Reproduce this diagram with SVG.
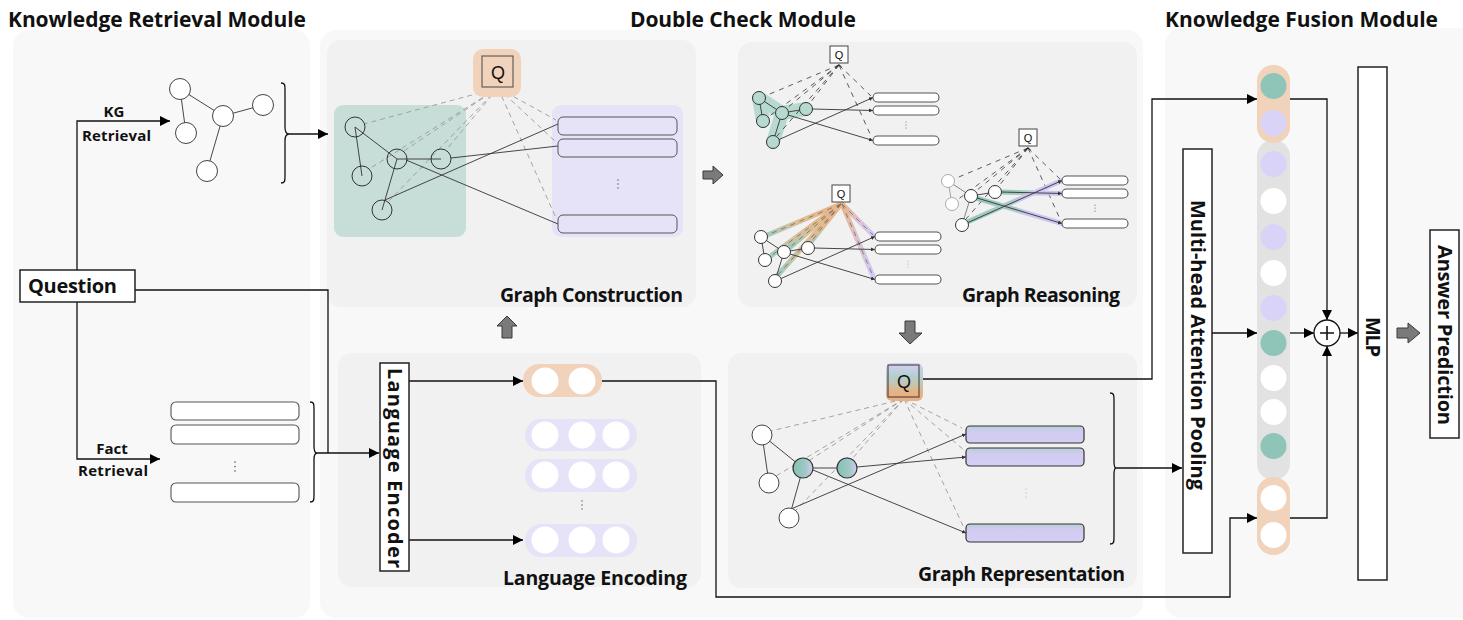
<svg xmlns="http://www.w3.org/2000/svg" width="1463" height="620" viewBox="0 0 1463 620">
<defs>
  <marker id="ah" viewBox="0 0 10 10" refX="10" refY="5" markerWidth="10" markerHeight="10" markerUnits="userSpaceOnUse" orient="auto">
    <path d="M0,0 L10,5 L0,10 z" fill="#000"/>
  </marker>
  <marker id="ahs" viewBox="0 0 10 10" refX="10" refY="5" markerWidth="4" markerHeight="4" markerUnits="userSpaceOnUse" orient="auto">
    <path d="M0,0 L10,5 L0,10 z" fill="#333"/>
  </marker>
  <linearGradient id="gOrGr" x1="1" y1="0" x2="0" y2="1">
    <stop offset="0" stop-color="#e8a66e"/>
    <stop offset="0.55" stop-color="#d9b27f"/>
    <stop offset="1" stop-color="#8cc4b6"/>
  </linearGradient>
  <linearGradient id="gOrPu" x1="0" y1="0" x2="1" y2="1">
    <stop offset="0" stop-color="#e8a66e"/>
    <stop offset="0.5" stop-color="#d8b7c8"/>
    <stop offset="1" stop-color="#c8c0f5"/>
  </linearGradient>
  <linearGradient id="gGrPu" x1="0" y1="0" x2="1" y2="0">
    <stop offset="0" stop-color="#86c0b2"/>
    <stop offset="0.45" stop-color="#9fc4c0"/>
    <stop offset="0.6" stop-color="#c6bff2"/>
    <stop offset="1" stop-color="#c8c0f5"/>
  </linearGradient>
  <linearGradient id="gQ" x1="0" y1="0" x2="0" y2="1">
    <stop offset="0" stop-color="#d6d0f4"/>
    <stop offset="0.35" stop-color="#b4cfd0"/>
    <stop offset="0.6" stop-color="#c9c3a8"/>
    <stop offset="0.75" stop-color="#e7b287"/>
    <stop offset="1" stop-color="#eaaf80"/>
  </linearGradient>
  <linearGradient id="gNode" x1="0" y1="0" x2="1" y2="0">
    <stop offset="0" stop-color="#86c1b3"/>
    <stop offset="0.6" stop-color="#9fc7c4"/>
    <stop offset="1" stop-color="#d4cdf3"/>
  </linearGradient>
  <linearGradient id="gBox" x1="0" y1="0" x2="0" y2="1">
    <stop offset="0" stop-color="#b9d0d6"/>
    <stop offset="0.35" stop-color="#d2cbf2"/>
    <stop offset="1" stop-color="#d5cef3"/>
  </linearGradient>
</defs>
<style>
  .mod{fill:#f8f8f8}
  .sub{fill:#f1f1f1}
  .t{font-family:"Open Sans","Noto Sans",sans-serif;font-weight:700;fill:#111}
  .q{font-family:"Liberation Sans",Arial,sans-serif;fill:#111;text-anchor:middle}
  .ln{fill:none;stroke:#111;stroke-width:1.3}
  .nd{fill:#fff;stroke:#444;stroke-width:1}
  .ndc{fill:none;stroke:#333;stroke-width:1}
  .bx{fill:#fff;stroke:#555;stroke-width:1.1}
  .e{stroke:#333;stroke-width:0.9;fill:none}
  .dash{stroke:#9a9a9a;stroke-width:0.9;stroke-dasharray:5 4;fill:none}
  .dashk{stroke:#333;stroke-width:0.8;stroke-dasharray:5 5;fill:none}
  .blk{fill:#7a7a7a;stroke:#3a3a3a;stroke-width:1}
  .dot{fill:#555}
  .wb{fill:#fff;stroke:#222;stroke-width:1.5}
</style>

<!-- module backgrounds -->
<rect class="mod" x="13" y="30" width="297" height="588" rx="16"/>
<rect class="mod" x="320" y="30" width="823" height="588" rx="16"/>
<rect class="mod" x="1165" y="28" width="320" height="590" rx="16"/>

<!-- module titles -->
<text class="t" x="8" y="27" font-size="21" textLength="298">Knowledge Retrieval Module</text>
<text class="t" x="630" y="27" font-size="21" textLength="226">Double Check Module</text>
<text class="t" x="1165" y="27" font-size="21" textLength="273">Knowledge Fusion Module</text>

<!-- panels inside the double check module -->
<rect class="sub" x="327" y="40" width="369" height="267" rx="14"/>
<rect class="sub" x="738" y="42" width="399" height="265" rx="14"/>
<rect class="sub" x="338" y="353" width="363" height="234" rx="14"/>
<rect class="sub" x="728" y="353" width="409" height="235" rx="14"/>

<!-- connectors -->
<g id="connectors">
  <path class="ln" d="M77,270 V121 H170" marker-end="url(#ah)"/>
  <path class="ln" d="M77,302 V459 H160" marker-end="url(#ah)"/>
  <path class="ln" d="M289,134 H328" marker-end="url(#ah)"/>
  <path class="ln" d="M135,290 H328 V453"/>
  <path class="ln" d="M317,453 H379" marker-end="url(#ah)"/>
  <path class="ln" d="M409,381 H523" marker-end="url(#ah)"/>
  <path class="ln" d="M409,540 H523" marker-end="url(#ah)"/>
  <path class="ln" d="M602,381 H716 V597 H1230 V518 H1257" marker-end="url(#ah)"/>
  <path class="ln" d="M923,379 H1152 V99 H1257" marker-end="url(#ah)"/>
  <path class="ln" d="M1116,468 H1182" marker-end="url(#ah)"/>
  <path class="ln" d="M1212,333 H1257" marker-end="url(#ah)"/>
  <path class="ln" d="M1290,99 H1327 V320" marker-end="url(#ah)"/>
  <path class="ln" d="M1290,333 H1314" marker-end="url(#ah)"/>
  <path class="ln" d="M1290,518 H1327 V346" marker-end="url(#ah)"/>
  <path class="ln" d="M1340,333 H1358" marker-end="url(#ah)"/>
  <!-- block arrows between stages -->
  <path class="blk" d="M703,171 L713,171 L713,166 L723,175 L713,184 L713,179 L703,179 Z"/>
  <path class="blk" d="M507,316 L517,326 L512,326 L512,338 L502,338 L502,326 L497,326 Z"/>
  <path class="blk" d="M905,321 L915,321 L915,333 L922,333 L910,344 L899,333 L905,333 Z"/>
  <path class="blk" d="M1397,328 L1408,328 L1408,323 L1420,333 L1408,343 L1408,338 L1397,338 Z"/>
</g>

<!-- knowledge retrieval -->
<g id="question">
  <rect class="wb" x="20" y="270" width="115" height="32"/>
  <text class="t" x="28" y="293" font-size="20" textLength="89">Question</text>
</g>
<g id="kg-retrieval-label">
  <text class="t" x="114" y="117" font-size="15" text-anchor="middle">KG</text>
  <text class="t" x="82" y="141" font-size="15" textLength="69">Retrieval</text>
</g>
<g id="fact-retrieval-label">
  <text class="t" x="112" y="454" font-size="15" text-anchor="middle">Fact</text>
  <text class="t" x="78" y="476" font-size="15" textLength="70">Retrieval</text>
</g>
<g id="kg-subgraph">
  <g class="e" stroke="#555">
    <line x1="180" y1="89" x2="186" y2="133"/>
    <line x1="180" y1="89" x2="223" y2="116"/>
    <line x1="223" y1="116" x2="263" y2="105"/>
    <line x1="223" y1="116" x2="207" y2="171"/>
  </g>
  <circle class="nd" cx="180" cy="89" r="10.5"/>
  <circle class="nd" cx="186" cy="133" r="10.5"/>
  <circle class="nd" cx="223" cy="116" r="10.5"/>
  <circle class="nd" cx="263" cy="105" r="10.5"/>
  <circle class="nd" cx="207" cy="171" r="10.5"/>
  <path class="ln" stroke-width="1.2" d="M281,83 C285,83 285,85 285,90 L285,127 C285,132 287,134 289,134 C287,134 285,136 285,141 L285,176 C285,181 285,183 281,183"/>
</g>
<g id="facts">
  <rect class="bx" x="171" y="402" width="128" height="18" rx="5"/>
  <rect class="bx" x="171" y="425" width="128" height="19" rx="5"/>
  <rect class="bx" x="171" y="483" width="128" height="19" rx="5"/>
  <circle class="dot" cx="235" cy="462" r="0.8"/>
  <circle class="dot" cx="235" cy="466.5" r="0.8"/>
  <circle class="dot" cx="235" cy="471" r="0.8"/>
  <path class="ln" stroke-width="1.2" d="M310,402 C314,402 314,404 314,409 L314,446 C314,451 315,453 317,453 C315,453 314,455 314,460 L314,495 C314,500 314,502 310,502"/>
</g>

<!-- graph construction -->
<g id="graph-construction">
  <rect x="334" y="105" width="132" height="132" rx="9" fill="#c7ddd8"/>
  <rect x="552" y="105" width="131" height="132" rx="9" fill="#e6e2f8"/>
  <g class="dash">
    <line x1="498" y1="88" x2="364" y2="124"/>
    <line x1="498" y1="88" x2="369" y2="169"/>
    <line x1="498" y1="88" x2="404" y2="151"/>
    <line x1="498" y1="88" x2="446" y2="150"/>
    <line x1="498" y1="88" x2="389" y2="201"/>
    <line x1="498" y1="88" x2="556" y2="120"/>
    <line x1="498" y1="88" x2="556" y2="142"/>
    <line x1="498" y1="88" x2="556" y2="218"/>
  </g>
  <g class="e">
    <line x1="355" y1="127" x2="362" y2="176"/>
    <line x1="355" y1="127" x2="397" y2="159"/>
    <line x1="397" y1="159" x2="441" y2="159"/>
    <line x1="397" y1="159" x2="382" y2="210"/>
    <line x1="451" y1="158" x2="558" y2="146"/>
    <line x1="385" y1="200" x2="558" y2="124"/>
    <line x1="406" y1="160" x2="558" y2="224"/>
  </g>
  <circle class="ndc" cx="355" cy="127" r="10"/>
  <circle class="ndc" cx="362" cy="176" r="10"/>
  <circle class="ndc" cx="397" cy="159" r="10"/>
  <circle class="ndc" cx="441" cy="159" r="10"/>
  <circle class="ndc" cx="382" cy="210" r="10"/>
  <rect x="558" y="117" width="119" height="18" rx="5" fill="none" stroke="#555"/>
  <rect x="558" y="139" width="119" height="18" rx="5" fill="none" stroke="#555"/>
  <rect x="558" y="215" width="119" height="18" rx="5" fill="none" stroke="#555"/>
  <circle class="dot" cx="618" cy="180" r="0.7"/>
  <circle class="dot" cx="618" cy="184" r="0.7"/>
  <circle class="dot" cx="618" cy="188" r="0.7"/>
  <rect x="473" y="49" width="48" height="48" rx="10" fill="#f1d2bb"/>
  <rect x="482" y="56" width="31" height="31" fill="none" stroke="#555" stroke-width="1.1"/>
  <text class="q" x="498" y="79" font-size="18">Q</text>
  <text class="t" x="500" y="302" font-size="19.5" textLength="183">Graph Construction</text>
</g>

<!-- graph reasoning: base subgraph A -->
<g id="graph-reasoning">
  <g id="reason-a">
    <path d="M759,98 L763,121 M759,98 L782,113 L806,109 M782,113 L773,142" fill="none" stroke="#b7d9d0" stroke-width="14" stroke-linecap="round" stroke-linejoin="round"/>
    <g class="dashk">
      <line x1="839" y1="65" x2="765" y2="96"/>
      <line x1="839" y1="65" x2="768" y2="117"/>
      <line x1="839" y1="65" x2="787" y2="108"/>
      <line x1="839" y1="65" x2="810" y2="103"/>
      <line x1="839" y1="65" x2="777" y2="136"/>
      <line x1="839" y1="65" x2="871" y2="96"/>
      <line x1="839" y1="65" x2="871" y2="136"/>
    </g>
    <g class="e">
      <line x1="759" y1="98" x2="763" y2="121"/>
      <line x1="759" y1="98" x2="782" y2="113"/>
      <line x1="782" y1="113" x2="806" y2="109"/>
      <line x1="782" y1="113" x2="773" y2="142"/>
      <line x1="812" y1="109" x2="873" y2="110.5" marker-end="url(#ahs)"/>
      <line x1="778" y1="140" x2="873" y2="97.5" marker-end="url(#ahs)"/>
      <line x1="788" y1="115" x2="873" y2="140.5" marker-end="url(#ahs)"/>
    </g>
    <g fill="#b7d9d0" stroke="#333" stroke-width="1">
      <circle cx="759" cy="98" r="6.5"/>
      <circle cx="763" cy="121" r="6.5"/>
      <circle cx="782" cy="113" r="6.5"/>
      <circle cx="806" cy="109" r="6.5"/>
      <circle cx="773" cy="142" r="6.5"/>
    </g>
    <rect class="bx" x="873" y="93" width="66" height="9" rx="4.5"/>
    <rect class="bx" x="873" y="106" width="66" height="9" rx="4.5"/>
    <rect class="bx" x="873" y="136" width="66" height="9" rx="4.5"/>
    <circle class="dot" cx="906" cy="122" r="0.5"/>
    <circle class="dot" cx="906" cy="125" r="0.5"/>
    <circle class="dot" cx="906" cy="128" r="0.5"/>
    <rect x="830" y="46" width="18" height="17" fill="#fff" stroke="#444" stroke-width="1"/>
    <text class="q" x="839" y="59" font-size="11">Q</text>
    <path d="M836.5,67 L839,64.5 L841.5,67" fill="none" stroke="#222" stroke-width="0.9"/>
  </g>

  <!-- subgraph B: question-to-node attention -->
  <g id="reason-b" transform="translate(2,139)">
    <g stroke-width="5" stroke-linecap="round" opacity="0.8">
      <line x1="839" y1="65" x2="763" y2="97" stroke="url(#gOrGr)"/>
      <line x1="839" y1="65" x2="766" y2="119" stroke="url(#gOrGr)"/>
      <line x1="839" y1="65" x2="786" y2="110" stroke="url(#gOrGr)"/>
      <line x1="839" y1="65" x2="808" y2="104" stroke="url(#gOrGr)"/>
      <line x1="839" y1="65" x2="775" y2="137" stroke="url(#gOrGr)"/>
      <line x1="840" y1="65" x2="871" y2="96" stroke="url(#gOrPu)"/>
      <line x1="840" y1="65" x2="871" y2="137" stroke="url(#gOrPu)"/>
    </g>
    <g class="dashk" stroke-width="0.5" opacity="0.6">
      <line x1="839" y1="65" x2="763" y2="97"/>
      <line x1="839" y1="65" x2="766" y2="119"/>
      <line x1="839" y1="65" x2="786" y2="110"/>
      <line x1="839" y1="65" x2="808" y2="104"/>
      <line x1="839" y1="65" x2="775" y2="137"/>
      <line x1="840" y1="65" x2="871" y2="96"/>
      <line x1="840" y1="65" x2="871" y2="137"/>
    </g>
    <g class="e">
      <line x1="759" y1="98" x2="763" y2="121"/>
      <line x1="759" y1="98" x2="782" y2="113"/>
      <line x1="782" y1="113" x2="806" y2="109"/>
      <line x1="782" y1="113" x2="773" y2="142"/>
      <line x1="812" y1="109" x2="873" y2="110.5" marker-end="url(#ahs)"/>
      <line x1="778" y1="140" x2="873" y2="97.5" marker-end="url(#ahs)"/>
      <line x1="788" y1="115" x2="873" y2="140.5" marker-end="url(#ahs)"/>
    </g>
    <g fill="#fff" stroke="#333" stroke-width="1">
      <circle cx="759" cy="98" r="6.5"/>
      <circle cx="763" cy="121" r="6.5"/>
      <circle cx="782" cy="113" r="6.5"/>
      <circle cx="806" cy="109" r="6.5"/>
      <circle cx="773" cy="142" r="6.5"/>
    </g>
    <rect class="bx" x="873" y="93" width="66" height="9" rx="4.5"/>
    <rect class="bx" x="873" y="106" width="66" height="9" rx="4.5"/>
    <rect class="bx" x="873" y="136" width="66" height="9" rx="4.5"/>
    <circle cx="906" cy="122" r="0.5" fill="#999"/>
    <circle cx="906" cy="125" r="0.5" fill="#999"/>
    <circle cx="906" cy="128" r="0.5" fill="#999"/>
    <rect x="830" y="46" width="18" height="17" fill="#fff" stroke="#444" stroke-width="1"/>
    <text class="q" x="839" y="59" font-size="11">Q</text>
  </g>

  <!-- subgraph C: node-to-fact attention -->
  <g id="reason-c" transform="translate(189,83)">
    <g class="dashk">
      <line x1="839" y1="65" x2="765" y2="96"/>
      <line x1="839" y1="65" x2="768" y2="117"/>
      <line x1="839" y1="65" x2="787" y2="108"/>
      <line x1="839" y1="65" x2="810" y2="103"/>
      <line x1="839" y1="65" x2="777" y2="136"/>
      <line x1="839" y1="65" x2="871" y2="96"/>
      <line x1="839" y1="65" x2="871" y2="136"/>
    </g>
    <g stroke-width="5" stroke-linecap="round" opacity="0.85" stroke="url(#gGrPu)">
      <line x1="810" y1="109" x2="873" y2="110.5"/>
      <line x1="776" y1="140" x2="873" y2="97.5"/>
      <line x1="787" y1="115" x2="873" y2="140.5"/>
    </g>
    <g class="e">
      <line x1="759" y1="98" x2="763" y2="121" stroke="#999"/>
      <line x1="759" y1="98" x2="782" y2="113" stroke="#777"/>
      <line x1="782" y1="113" x2="806" y2="109"/>
      <line x1="782" y1="113" x2="773" y2="142" stroke="#777"/>
      <line x1="812" y1="109" x2="873" y2="110.5" marker-end="url(#ahs)"/>
      <line x1="778" y1="140" x2="873" y2="97.5" marker-end="url(#ahs)"/>
      <line x1="788" y1="115" x2="873" y2="140.5" marker-end="url(#ahs)"/>
    </g>
    <g fill="#fff" stroke-width="1">
      <circle cx="759" cy="98" r="6.5" stroke="#aaa"/>
      <circle cx="763" cy="121" r="6.5" stroke="#aaa"/>
      <circle cx="782" cy="113" r="6.5" stroke="#333"/>
      <circle cx="806" cy="109" r="6.5" stroke="#333"/>
      <circle cx="773" cy="142" r="6.5" stroke="#333"/>
    </g>
    <rect class="bx" x="873" y="93" width="66" height="9" rx="4.5"/>
    <rect class="bx" x="873" y="106" width="66" height="9" rx="4.5"/>
    <rect class="bx" x="873" y="136" width="66" height="9" rx="4.5"/>
    <circle class="dot" cx="906" cy="122" r="0.6"/>
    <circle class="dot" cx="906" cy="125" r="0.6"/>
    <circle class="dot" cx="906" cy="128" r="0.6"/>
    <rect x="830" y="46" width="18" height="17" fill="#fff" stroke="#444" stroke-width="1"/>
    <text class="q" x="839" y="59" font-size="11">Q</text>
    <path d="M836.5,67 L839,64.5 L841.5,67" fill="none" stroke="#222" stroke-width="0.9"/>
  </g>
  <text class="t" x="962" y="302" font-size="19.5" textLength="158">Graph Reasoning</text>
</g>

<!-- language encoding -->
<g id="language-encoder">
  <rect class="wb" x="380" y="363" width="29" height="208"/>
  <text class="t" font-size="20" text-anchor="middle" dy="0.35em" textLength="200" transform="translate(394.5,468) rotate(90)">Language Encoder</text>
</g>
<g id="language-encoding">
  <rect x="523" y="364" width="79" height="33" rx="16" fill="#f1d2bb"/>
  <circle cx="545" cy="381" r="13.5" fill="#fff"/>
  <circle cx="582" cy="381" r="13.5" fill="#fff"/>
  <rect x="525" y="419" width="112" height="32" rx="16" fill="#e6e2f8"/>
  <rect x="525" y="459" width="112" height="33" rx="16" fill="#e6e2f8"/>
  <rect x="525" y="524" width="112" height="33" rx="16" fill="#e6e2f8"/>
  <g fill="#fff">
    <circle cx="545" cy="435" r="13.5"/><circle cx="582" cy="435" r="13.5"/><circle cx="616" cy="435" r="13.5"/>
    <circle cx="545" cy="475" r="13.5"/><circle cx="582" cy="475" r="13.5"/><circle cx="616" cy="475" r="13.5"/>
    <circle cx="545" cy="540" r="13.5"/><circle cx="582" cy="540" r="13.5"/><circle cx="616" cy="540" r="13.5"/>
  </g>
  <circle class="dot" cx="582" cy="501" r="0.7"/>
  <circle class="dot" cx="582" cy="505" r="0.7"/>
  <circle class="dot" cx="582" cy="509" r="0.7"/>
  <text class="t" x="503" y="585" font-size="19.5" textLength="184">Language Encoding</text>
</g>

<!-- graph representation -->
<g id="graph-representation">
  <g class="dash" stroke="#666">
    <line x1="904" y1="399" x2="771" y2="431"/>
    <line x1="904" y1="399" x2="776" y2="476"/>
    <line x1="904" y1="399" x2="810" y2="460"/>
    <line x1="904" y1="399" x2="852" y2="459"/>
    <line x1="904" y1="399" x2="796" y2="510"/>
    <line x1="904" y1="399" x2="962" y2="428"/>
    <line x1="904" y1="399" x2="964" y2="450"/>
    <line x1="904" y1="399" x2="964" y2="528"/>
  </g>
  <g class="e">
    <line x1="762" y1="435" x2="769" y2="483"/>
    <line x1="762" y1="435" x2="803" y2="468"/>
    <line x1="813" y1="468" x2="837" y2="468"/>
    <line x1="803" y1="468" x2="789" y2="518"/>
    <line x1="857" y1="467" x2="966" y2="457" marker-end="url(#ahs)"/>
    <line x1="791" y1="509" x2="966" y2="434" marker-end="url(#ahs)"/>
    <line x1="813" y1="470" x2="966" y2="533" marker-end="url(#ahs)"/>
  </g>
  <circle class="nd" cx="762" cy="435" r="10"/>
  <circle class="nd" cx="769" cy="483" r="10"/>
  <circle cx="803" cy="468" r="10" fill="url(#gNode)" stroke="#333" stroke-width="1.2"/>
  <circle cx="847" cy="468" r="10" fill="url(#gNode)" stroke="#333" stroke-width="1.2"/>
  <circle class="nd" cx="789" cy="518" r="10"/>
  <g fill="url(#gBox)" stroke="#333" stroke-width="1.2">
    <rect x="966" y="426" width="118" height="17" rx="4"/>
    <rect x="966" y="448" width="118" height="18" rx="4"/>
    <rect x="966" y="524" width="118" height="18" rx="4"/>
  </g>
  <circle cx="1026" cy="489" r="0.6" fill="#aaa"/>
  <circle cx="1026" cy="493" r="0.6" fill="#aaa"/>
  <circle cx="1026" cy="497" r="0.6" fill="#aaa"/>
  <rect x="886" y="363" width="37" height="38" rx="6" fill="url(#gQ)"/>
  <rect x="888" y="365" width="31" height="32" fill="none" stroke="#444" stroke-width="1.1"/>
  <text class="q" x="904" y="388" font-size="18">Q</text>
  <path class="ln" stroke-width="1.2" d="M1110,393 C1114,393 1114,395 1114,400 L1114,461 C1114,466 1115,468 1116,468 C1115,468 1114,470 1114,475 L1114,537 C1114,542 1114,544 1110,544"/>
  <text class="t" x="918" y="581" font-size="19.5" textLength="207">Graph Representation</text>
</g>

<!-- knowledge fusion -->
<g id="attention-pooling">
  <rect class="wb" x="1183" y="149" width="29" height="404"/>
  <text class="t" font-size="20" text-anchor="middle" dy="0.35em" textLength="290" transform="translate(1197.5,345) rotate(90)">Multi-head Attention Pooling</text>
</g>
<g id="fused-vector">
  <rect x="1257" y="140" width="33" height="340" rx="16" fill="#e2e2e2"/>
  <rect x="1257" y="65" width="33" height="78" rx="16" fill="#f1d2bb"/>
  <rect x="1257" y="477" width="33" height="78" rx="16" fill="#f1d2bb"/>
  <circle cx="1273.5" cy="86" r="13" fill="#8fc4b8"/>
  <circle cx="1273.5" cy="123" r="13" fill="#d9d3f7"/>
  <circle cx="1273.5" cy="164" r="13" fill="#d9d3f7"/>
  <circle cx="1273.5" cy="201" r="13" fill="#fff"/>
  <circle cx="1273.5" cy="237" r="13" fill="#d9d3f7"/>
  <circle cx="1273.5" cy="273" r="13" fill="#fff"/>
  <circle cx="1273.5" cy="308" r="13" fill="#d9d3f7"/>
  <circle cx="1273.5" cy="343" r="13" fill="#8fc4b8"/>
  <circle cx="1273.5" cy="378" r="13" fill="#fff"/>
  <circle cx="1273.5" cy="412" r="13" fill="#fff"/>
  <circle cx="1273.5" cy="446" r="13" fill="#8fc4b8"/>
  <circle cx="1273.5" cy="498" r="13" fill="#fff"/>
  <circle cx="1273.5" cy="535" r="13" fill="#fff"/>
</g>
<g id="sum">
  <circle cx="1327" cy="333" r="13" fill="#fff" stroke="#111" stroke-width="1.3"/>
  <path d="M1320,333 H1334 M1327,326 V340" stroke="#111" stroke-width="1.6"/>
</g>
<g id="mlp">
  <rect class="wb" x="1358" y="67" width="29" height="513"/>
  <text class="t" font-size="20" text-anchor="middle" dy="0.35em" textLength="40" transform="translate(1372.5,337) rotate(90)">MLP</text>
</g>
<g id="answer-prediction">
  <rect class="wb" x="1430" y="230" width="29" height="208"/>
  <text class="t" font-size="20" text-anchor="middle" dy="0.35em" textLength="180" transform="translate(1444.5,335) rotate(90)">Answer Prediction</text>
</g>
</svg>
